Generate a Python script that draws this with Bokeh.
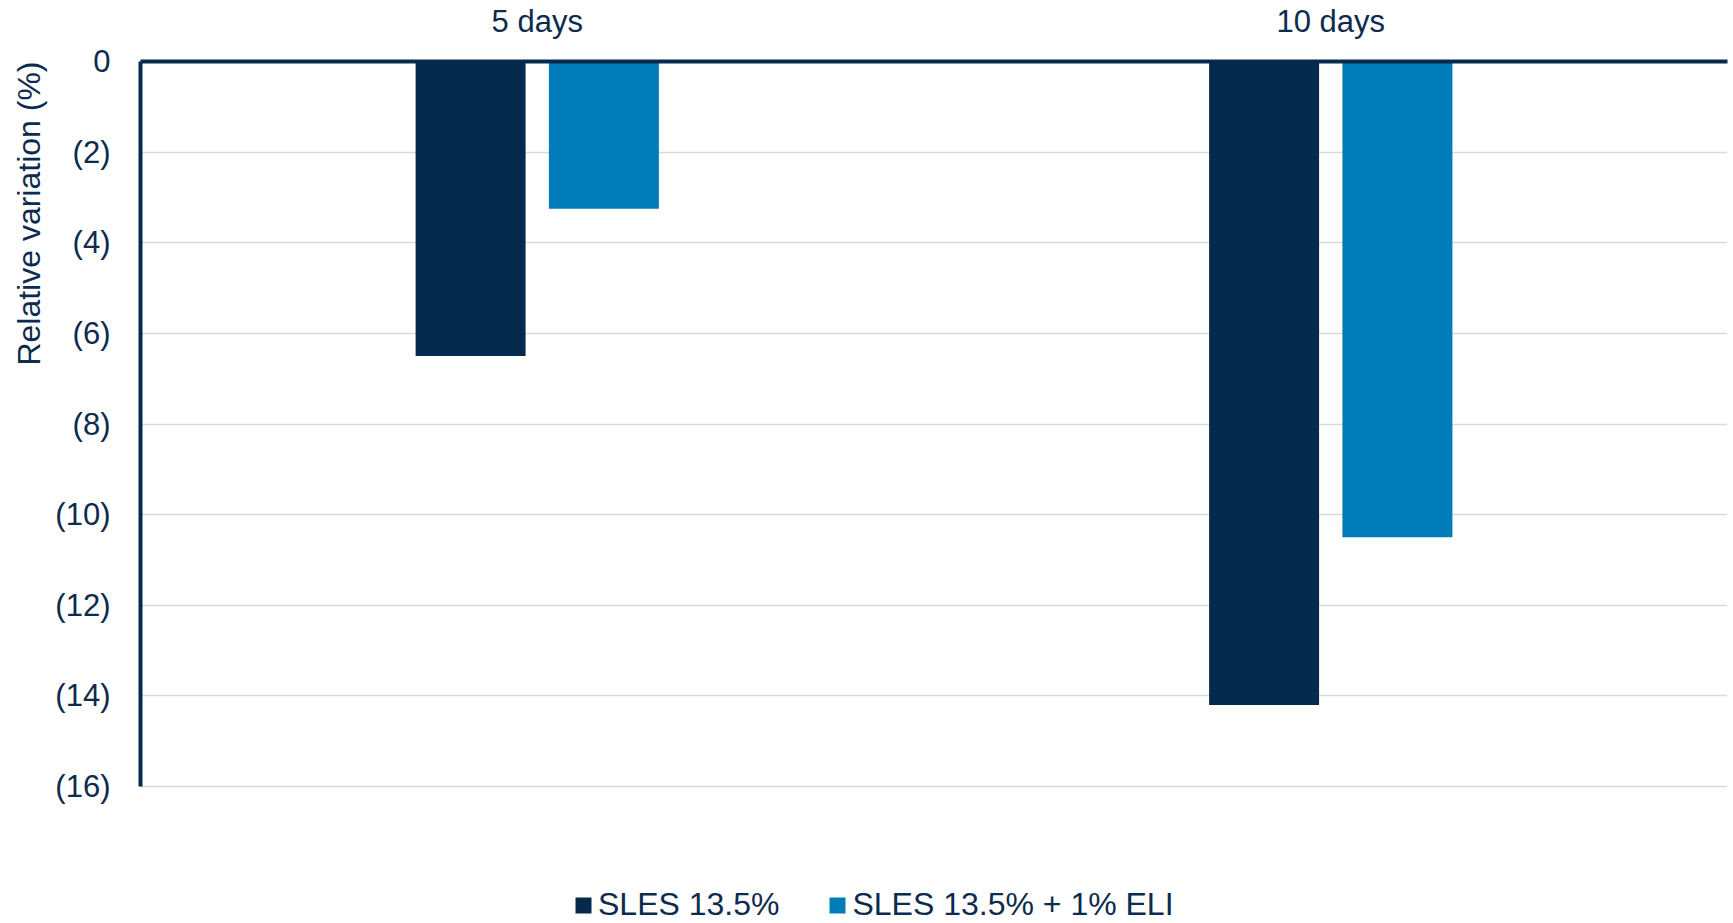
from bokeh.plotting import figure
from bokeh.models import (FactorRange, Range1d, FixedTicker, Legend, LegendItem,
                          Title, ColumnDataSource)
from bokeh.transform import dodge
from bokeh.embed import file_html
from bokeh.resources import INLINE

# ---- data ----
categories = ["5 days", "10 days"]
sles = [-6.5, -14.2]
sles_eli = [-3.25, -10.5]
series_names = ["SLES 13.5%", "SLES 13.5% + 1% ELI"]
y_ticks = [0, -2, -4, -6, -8, -10, -12, -14, -16]
y_tick_labels = ["0", "(2)", "(4)", "(6)", "(8)", "(10)", "(12)", "(14)", "(16)"]
y_label = "Relative variation (%)"

# ---- style ----
NAVY = "#062A4E"
BLUE = "#007DB8"
TEXT = "#0C2B4E"
GRID = "#D9D9D9"
FONT = "Liberation Sans"
FS = "31px"

src = ColumnDataSource(dict(cat=categories, a=sles, b=sles_eli))

# the frame extends below the value axis so the legend can sit inside it;
# the axis itself is bounded to the data scale (0 .. -16)
p = figure(width=1733, height=923,
           x_range=FactorRange(*categories, range_padding=0),
           y_range=Range1d(-19.02, 0),
           x_axis_location="above",
           output_backend="svg", toolbar_location=None,
           min_border_left=140, min_border_right=6,
           min_border_top=60, min_border_bottom=0)
p.outline_line_color = None

r1 = p.vbar(x=dodge("cat", -0.084, range=p.x_range), top=0, bottom="a",
            width=0.1386, source=src, fill_color=NAVY, line_color=None)
r2 = p.vbar(x=dodge("cat", 0.084, range=p.x_range), top=0, bottom="b",
            width=0.1386, source=src, fill_color=BLUE, line_color=None)

# axes
for ax in (p.xaxis[0], p.yaxis[0]):
    ax.axis_line_color = NAVY
    ax.axis_line_width = 4
    ax.major_tick_line_color = None
    ax.minor_tick_line_color = None
    ax.major_tick_out = 0
    ax.major_tick_in = 0
    ax.major_label_text_font = FONT
    ax.major_label_text_font_size = FS
    ax.major_label_text_color = TEXT
p.xaxis.major_label_standoff = 23
p.yaxis.major_label_standoff = 30
p.yaxis.ticker = FixedTicker(ticks=y_ticks)
p.yaxis.bounds = (min(y_ticks), max(y_ticks))
p.yaxis.major_label_overrides = dict(zip(y_ticks, y_tick_labels))

p.xgrid.visible = False
p.ygrid.ticker = FixedTicker(ticks=y_ticks)
p.ygrid.grid_line_color = GRID
p.ygrid.grid_line_width = 1.5

# y axis title, aligned to top of the plot
t = Title(text=y_label, align="right", text_font=FONT, text_font_size="32px",
          text_color=TEXT, text_font_style="normal", standoff=12)
p.add_layout(t, "left")

legend = Legend(items=[LegendItem(label=series_names[0], renderers=[r1]),
                       LegendItem(label=series_names[1], renderers=[r2])],
                orientation="horizontal", location=(433, 0),
                padding=0, margin=0, spacing=48, label_standoff=5,
                glyph_width=20, glyph_height=20,
                border_line_color=None, background_fill_alpha=0,
                label_text_font=FONT, label_text_font_size="32px",
                label_text_color=TEXT)
p.add_layout(legend, "center")

open("out.html", "w").write(file_html(p, INLINE))
